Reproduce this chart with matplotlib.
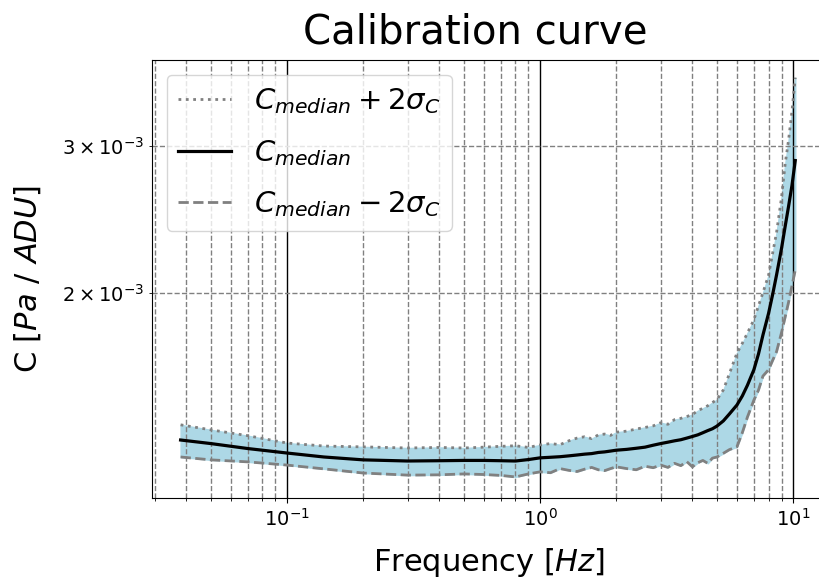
import numpy as np
import matplotlib
matplotlib.use("Agg")
import matplotlib.pyplot as plt

# frequencies (Hz)
freq = [0.038, 0.05, 0.07, 0.1, 0.14, 0.2, 0.3, 0.4, 0.5, 0.6, 0.7, 0.8, 0.9, 1.0,
        1.1, 1.2, 1.3, 1.4, 1.5, 1.6, 1.7, 1.8, 1.9, 2.0, 2.2, 2.4, 2.6, 2.8,
        3.0, 3.2, 3.4, 3.6, 3.8, 4.0, 4.2, 4.4, 4.6, 4.8, 5.0, 5.3, 5.6, 6.0,
        6.3, 6.6, 7.0, 7.3, 7.6, 8.0, 8.3, 8.6, 9.0, 9.3, 9.6, 9.9, 10.2]

# C median, in 1e-3 Pa/ADU
c_median = [1.333, 1.320, 1.302, 1.286, 1.272, 1.262, 1.258, 1.259, 1.260, 1.260, 1.259, 1.258, 1.263, 1.269,
            1.271, 1.273, 1.276, 1.279, 1.282, 1.284, 1.288, 1.290, 1.293, 1.296, 1.299, 1.303, 1.307, 1.314,
            1.320, 1.325, 1.330, 1.334, 1.340, 1.346, 1.352, 1.360, 1.368, 1.375, 1.385, 1.405, 1.432, 1.468,
            1.505, 1.550, 1.618, 1.690, 1.780, 1.890, 1.990, 2.100, 2.260, 2.400, 2.540, 2.690, 2.880]

# median + 2 sigma
c_upper = [1.390, 1.371, 1.349, 1.322, 1.311, 1.308, 1.304, 1.306, 1.304, 1.307, 1.310, 1.312, 1.306, 1.315,
           1.320, 1.316, 1.330, 1.340, 1.345, 1.338, 1.352, 1.355, 1.350, 1.362, 1.366, 1.374, 1.380, 1.386,
           1.398, 1.392, 1.410, 1.415, 1.422, 1.430, 1.445, 1.455, 1.465, 1.478, 1.490, 1.530, 1.600, 1.694,
           1.740, 1.790, 1.857, 1.930, 2.000, 2.100, 2.230, 2.360, 2.600, 2.850, 3.050, 3.300, 3.620]

# median - 2 sigma
c_lower = [1.272, 1.262, 1.255, 1.244, 1.231, 1.217, 1.210, 1.211, 1.214, 1.212, 1.209, 1.204, 1.214, 1.221,
           1.218, 1.232, 1.226, 1.222, 1.230, 1.236, 1.228, 1.225, 1.232, 1.238, 1.232, 1.228, 1.240, 1.235,
           1.244, 1.236, 1.250, 1.242, 1.256, 1.238, 1.252, 1.260, 1.250, 1.268, 1.272, 1.285, 1.298, 1.308,
           1.360, 1.420, 1.488, 1.530, 1.590, 1.618, 1.660, 1.700, 1.792, 1.870, 1.950, 2.040, 2.130]

f = np.array(freq)
med = np.array(c_median) * 1e-3
up = np.array(c_upper) * 1e-3
lo = np.array(c_lower) * 1e-3

fig = plt.figure(figsize=(8.2, 5.85), dpi=100)
ax = fig.add_axes([0.1854, 0.1487, 0.822, 0.7487])

ax.fill_between(f, lo, up, color='lightblue')
ax.plot(f, up, color='gray', linestyle=':', linewidth=2, label=r'$C_{median} + 2\sigma_C$')
ax.plot(f, med, color='black', linewidth=2.3, label=r'$C_{median}$')
ax.plot(f, lo, color='gray', linestyle='--', linewidth=2, label=r'$C_{median} - 2\sigma_C$')

ax.set_xscale('log')
ax.set_yscale('log')
ax.set_xlim(0.0293, 13.5)
ax.set_ylim(1.136e-3, 3.80e-3)

ax.grid(which='major', color='black', linestyle='-', linewidth=1)
ax.grid(which='minor', color='gray', linestyle='--', linewidth=1)

# title sits a bit left of the axes centre in the original
ax.set_title('Calibration curve', fontsize=29, pad=12, x=0.479)
ax.set_xlabel(r'Frequency $[Hz]$', fontsize=22, labelpad=12)
ax.set_ylabel(r'C $[Pa\ /\ ADU]$', fontsize=22, labelpad=14)
ax.tick_params(axis='x', which='major', labelsize=14)
ax.tick_params(axis='y', which='minor', labelsize=14)

ax.legend(loc='upper left', fontsize=21, handlelength=1.8, labelspacing=0.75)

fig.savefig('out.png', dpi=100)
